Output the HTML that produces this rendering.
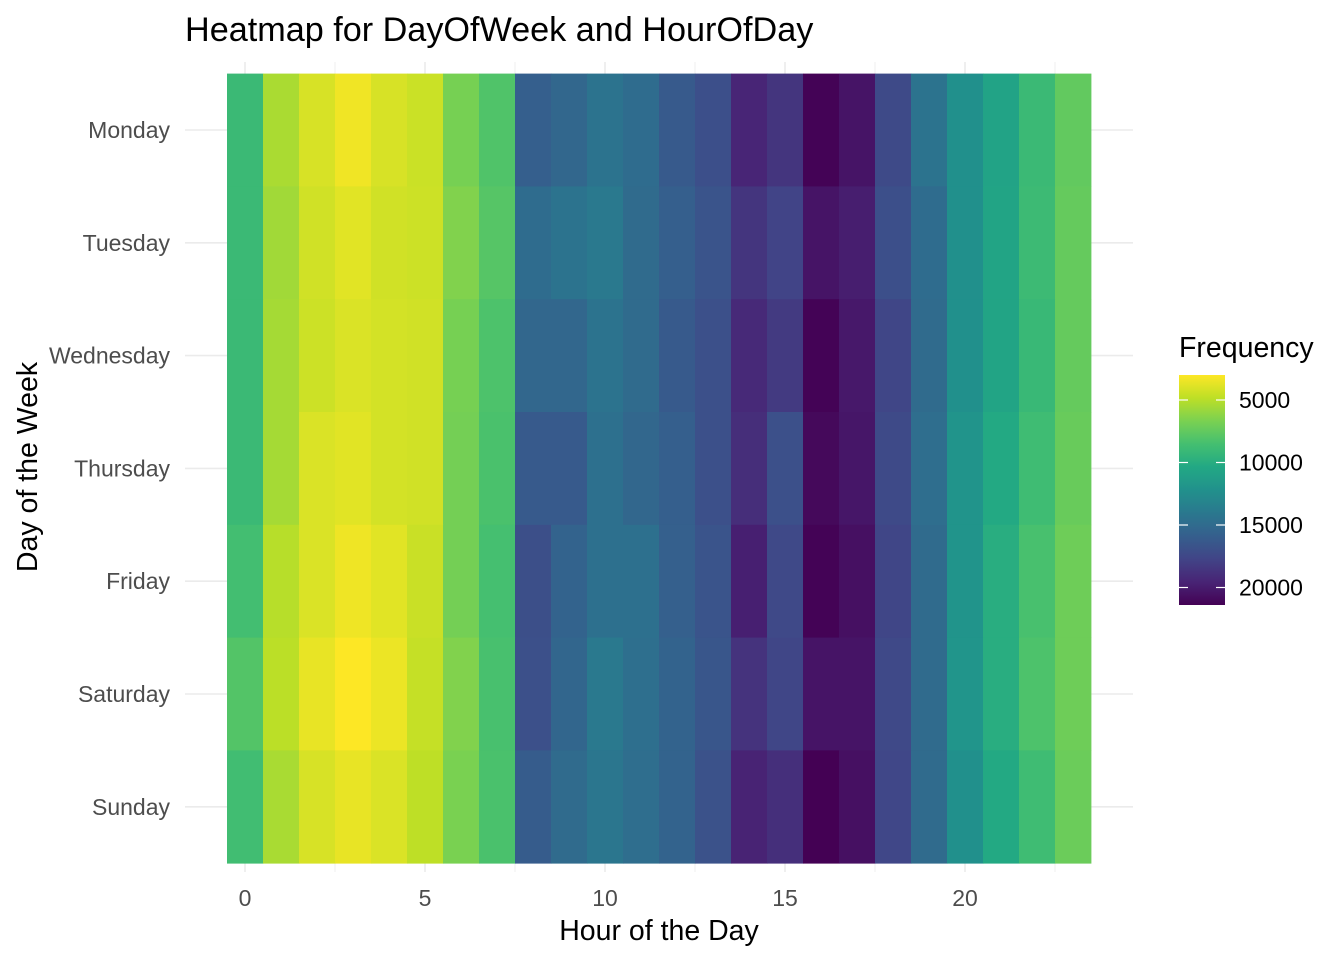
<!DOCTYPE html>
<html><head><meta charset="utf-8"><style>
body{margin:0;background:#fff;}
svg text{font-family:"Liberation Sans",sans-serif;}
</style></head><body>
<svg id="chart" width="1344" height="960" xmlns="http://www.w3.org/2000/svg">
<text x="185" y="41" font-size="34.2" fill="#000">Heatmap for DayOfWeek and HourOfDay</text>
<g id="grid"></g>
<g id="cells"></g>
<g id="axes"></g>
<text x="659" y="940" font-size="28.5" text-anchor="middle" fill="#000">Hour of the Day</text>
<text transform="translate(37,467) rotate(-90)" font-size="28.5" text-anchor="middle" fill="#000">Day of the Week</text>
<g>
<text x="1179" y="357" font-size="28.5" fill="#000">Frequency</text>
<defs><linearGradient id="lg" x1="0" y1="0" x2="0" y2="1"></linearGradient></defs>
<rect x="1179" y="375" width="46" height="230" fill="url(#lg)"/>
<g id="legticks"></g>
</g>
</svg>
<script>
const days=["Monday","Tuesday","Wednesday","Thursday","Friday","Saturday","Sunday"];
const hours=[0,1,2,3,4,5,6,7,8,9,10,11,12,13,14,15,16,17,18,19,20,21,22,23];
const xTicks=[0,5,10,15,20];
const legendTicks=[5000,10000,15000,20000];
const monday=[9000,5370,4100,3380,4100,4470,6820,8100,15870,15300,14400,14950,16200,16950,19500,18600,21300,20400,17300,14400,12250,10800,9000,7500];
const tuesday=[9000,5600,4300,3800,4300,4400,6500,7900,14950,14400,14000,15000,15900,16600,18600,17700,20400,19900,16950,14950,12250,10700,8900,7400];
const wednesday=[9000,5500,4400,4000,4200,4300,6800,8200,15300,15300,14400,15000,16200,16900,19300,18300,21300,20200,17600,15000,12250,10700,9100,7400];
const thursday=[9000,5500,4000,3800,4200,4300,6900,8300,16200,16200,14600,15300,15900,16900,19000,16900,21000,20300,17300,14800,12000,10300,8800,7300];
const friday=[8600,5000,4000,3400,3800,4500,6900,8500,17000,15600,14600,14600,15800,16600,19800,17400,21300,20600,17600,15000,12000,10000,8400,7100];
const saturday=[8000,4900,3600,3000,3500,4600,6500,8400,16900,15400,14000,14700,15600,16500,18700,17600,20400,20400,17400,15000,11900,10000,8200,7100];
const sunday=[8700,5400,4100,3600,4000,4800,6700,8300,16100,15000,14200,14800,15600,16800,19600,18900,21400,20600,17500,15000,12300,10300,8800,7200];
const values=[monday,tuesday,wednesday,thursday,friday,saturday,sunday];

const NS="http://www.w3.org/2000/svg";
function mk(t,a,p){const e=document.createElementNS(NS,t);for(const k in a)e.setAttribute(k,a[k]);p.appendChild(e);return e;}
const all=values.flat();const vmin=Math.min(...all),vmax=Math.max(...all);
const x=h=>245+36*h; const cw=36;
const y=i=>130+112.8*i; const ch=112.8;
const vir=["#440154","#482475","#414487","#355f8d","#2a788e","#21918c","#22a884","#44bf70","#7ad151","#bddf26","#fde725"];
function hex(c){return [1,3,5].map(i=>parseInt(c.substr(i,2),16));}
function viridis(t){t=Math.max(0,Math.min(1,t));const n=vir.length-1;const s=t*n,i=Math.min(n-1,Math.floor(s)),f=s-i;const a=hex(vir[i]),b=hex(vir[i+1]);return "rgb("+a.map((v,k)=>Math.round(v+(b[k]-v)*f)).join(",")+")";}
const col=v=>viridis(1-(v-vmin)/(vmax-vmin));
const grid=document.getElementById('grid');
for(let h=0;h<=22.5;h+=2.5){const g=mk('line',{x1:x(h),x2:x(h),y1:62,y2:872,stroke:'#ebebeb','stroke-width':h%5===0?1.6:0.8},grid);}
days.forEach((d,i)=>{const g=mk('line',{x1:185,x2:1133,y1:y(i),y2:y(i),stroke:'#ebebeb','stroke-width':1.6},grid);});
const cells=document.getElementById('cells');
values.forEach((row,i)=>row.forEach((v,h)=>{const r=mk('rect',{x:x(hours[h])-cw/2,y:y(i)-ch/2,width:cw+0.4,height:ch+0.4,fill:col(v)},cells);}));
const axes=document.getElementById('axes');
days.forEach((d,i)=>{const t=mk('text',{x:170,y:y(i)+8,'font-size':23,'text-anchor':'end',fill:'#4d4d4d'},axes);t.textContent=d;});
xTicks.forEach(h=>{const t=mk('text',{x:x(h),y:906,'font-size':23,'text-anchor':'middle',fill:'#4d4d4d'},axes);t.textContent=h;});
const lg=document.getElementById('lg');
for(let k=0;k<=20;k++){mk('stop',{offset:k/20,'stop-color':viridis(1-k/20)},lg);}
const lt=document.getElementById('legticks');
const ly=v=>375+230*(v-vmin)/(vmax-vmin);
legendTicks.forEach(v=>{mk('line',{x1:1179,x2:1188,y1:ly(v),y2:ly(v),stroke:'#fff','stroke-width':1.2},lt);mk('line',{x1:1216,x2:1225,y1:ly(v),y2:ly(v),stroke:'#fff','stroke-width':1.2},lt);const t=mk('text',{x:1239,y:ly(v)+8,'font-size':23,fill:'#000'},lt);t.textContent=v;});
</script>
</body></html>
